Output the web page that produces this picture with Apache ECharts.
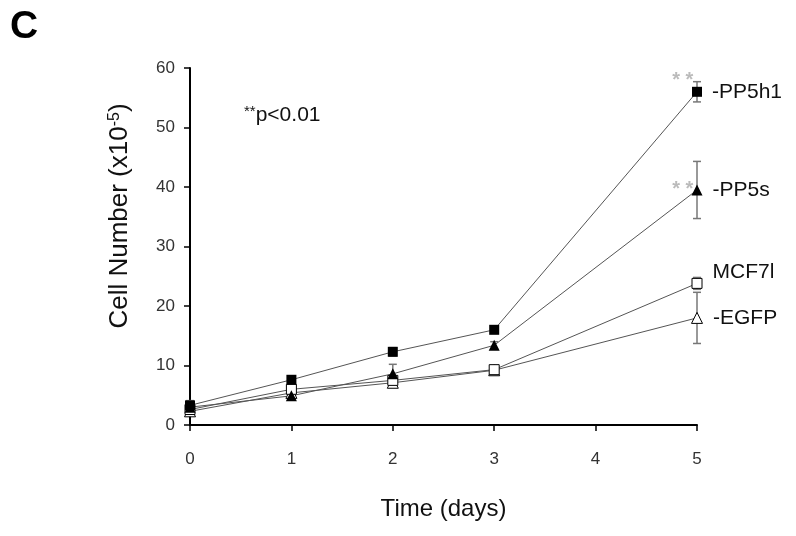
<!DOCTYPE html>
<html><head><meta charset="utf-8">
<script src="https://cdn.jsdelivr.net/npm/echarts@6/dist/echarts.min.js"></script>
<style>html,body{margin:0;padding:0;background:#fff}#c{width:796px;height:536px}</style>
</head><body><div id="c"></div>
<script>
const days = [0, 1, 2, 3, 5];
const xTicks = [0, 1, 2, 3, 4, 5];
const yTicks = [0, 10, 20, 30, 40, 50, 60];
const pp5h1 = [3.3, 7.6, 12.3, 16.0, 56.0];
const pp5h1Err = [0.8, 0.6, 0.7, 0.6, 1.7];
const pp5s = [3.0, 4.9, 8.6, 13.4, 39.5];
const pp5sErr = [0.6, 0.5, 1.6, 0.6, 4.8];
const mcf7 = [2.6, 6.0, 7.5, 9.3, 23.8];
const mcf7Err = [0.5, 0.5, 0.5, 0.5, 1.0];
const egfp = [2.3, 5.4, 7.1, 9.2, 18.0];
const egfpErr = [0.4, 0.4, 0.5, 0.4, 4.3];
const seriesNames = ['-PP5h1', '-PP5s', 'MCF7l', '-EGFP'];
const sigStars = [[4.86, 57.9], [4.86, 39.6]];

const chart = echarts.init(document.getElementById('c'));
const font = 'Liberation Sans, Arial, sans-serif';

function lineSeries(name, vals, symbol, filled) {
  return {
    type: 'line', name: name, z: 3,
    data: vals.map((v, i) => {
      const d = {value: [days[i], v]};
      if (i === vals.length - 1) {
        d.label = {show: true, position: 'right', distance: 10, formatter: name,
          color: '#111', fontSize: 21, fontFamily: font};
      }
      return d;
    }),
    symbol: symbol, symbolSize: symbol === 'rect' ? 10 : 11,
    showAllSymbol: true,
    lineStyle: {color: '#555', width: 1},
    itemStyle: {color: filled ? '#000' : '#fff', borderColor: '#000', borderWidth: filled ? 0 : 1},
    label: {show: false}
  };
}

function errSeries(vals, errs) {
  return {
    type: 'custom', z: 2, silent: true,
    data: vals.map((v, i) => [days[i], v - errs[i], v + errs[i]]),
    renderItem: function (params, api) {
      const lo = api.coord([api.value(0), api.value(1)]);
      const hi = api.coord([api.value(0), api.value(2)]);
      const w = 4;
      const st = {stroke: '#777', lineWidth: 1.5};
      return {type: 'group', children: [
        {type: 'line', shape: {x1: lo[0], y1: lo[1], x2: hi[0], y2: hi[1]}, style: st},
        {type: 'line', shape: {x1: lo[0] - w, y1: lo[1], x2: lo[0] + w, y2: lo[1]}, style: st},
        {type: 'line', shape: {x1: hi[0] - w, y1: hi[1], x2: hi[0] + w, y2: hi[1]}, style: st}
      ]};
    }
  };
}

const pp5h1S = lineSeries(seriesNames[0], pp5h1, 'rect', true);
const pp5sS = lineSeries(seriesNames[1], pp5s, 'triangle', true);
const mcf7S = lineSeries(seriesNames[2], mcf7, 'rect', false);
const egfpS = lineSeries(seriesNames[3], egfp, 'triangle', false);
mcf7S.data[4].label.offset = [0, -11];

chart.setOption({
  animation: false,
  backgroundColor: '#fff',
  grid: {left: 190, right: 99, top: 68, bottom: 111, containLabel: false},
  xAxis: {
    type: 'value', min: 0, max: 5, interval: 1,
    name: 'Time (days)', nameLocation: 'middle', nameGap: 72,
    nameTextStyle: {fontSize: 24, color: '#111', fontFamily: font},
    axisLine: {show: true, onZero: false, lineStyle: {color: '#000', width: 2}},
    axisTick: {show: true, length: 6, lineStyle: {color: '#000', width: 1.5}},
    axisLabel: {fontSize: 17, color: '#333', margin: 26, fontFamily: font,
      formatter: v => xTicks.includes(v) ? String(v) : ''},
    splitLine: {show: false}
  },
  yAxis: {
    type: 'value', min: 0, max: 60, interval: 10,
    axisLine: {show: true, lineStyle: {color: '#000', width: 2}},
    axisTick: {show: true, length: 6, lineStyle: {color: '#000', width: 1.5}},
    axisLabel: {fontSize: 17, color: '#333', margin: 15, fontFamily: font,
      formatter: v => yTicks.includes(v) ? String(v) : ''},
    splitLine: {show: false}
  },
  series: [
    errSeries(pp5h1, pp5h1Err), errSeries(pp5s, pp5sErr),
    errSeries(mcf7, mcf7Err), errSeries(egfp, egfpErr),
    egfpS, mcf7S, pp5sS, pp5h1S,
    {
      type: 'scatter', symbolSize: 0, silent: true,
      data: sigStars,
      label: {show: true, formatter: '* *', position: 'inside', color: '#aaa',
        fontSize: 20, fontWeight: 'bold', fontFamily: font}
    }
  ],
  graphic: [
    {type: 'text', left: 10, top: 8, style: {text: 'C', fontSize: 39, fontWeight: 'bold',
      fill: '#000', fontFamily: font}},
    {type: 'text', x: 120, y: 216, rotation: Math.PI / 2, style: {
      text: '{t|Cell Number (x10}{s|-5}{t|)}', align: 'center', verticalAlign: 'middle',
      rich: {t: {fontSize: 26, fontFamily: font, fill: '#111'},
             s: {fontSize: 16, fontFamily: font, fill: '#111', verticalAlign: 'top', padding: [0, 0, 9, 0]}}}},
    {type: 'text', left: 244, top: 104, style: {
      text: '{s|**}{t|p<0.01}', fill: '#111', fontFamily: font,
      rich: {s: {fontSize: 15, verticalAlign: 'top', padding: [0, 0, 7, 0], fontFamily: font, fill: '#111'},
             t: {fontSize: 21, fontFamily: font, fill: '#111'}}}}
  ]
});
</script></body></html>
